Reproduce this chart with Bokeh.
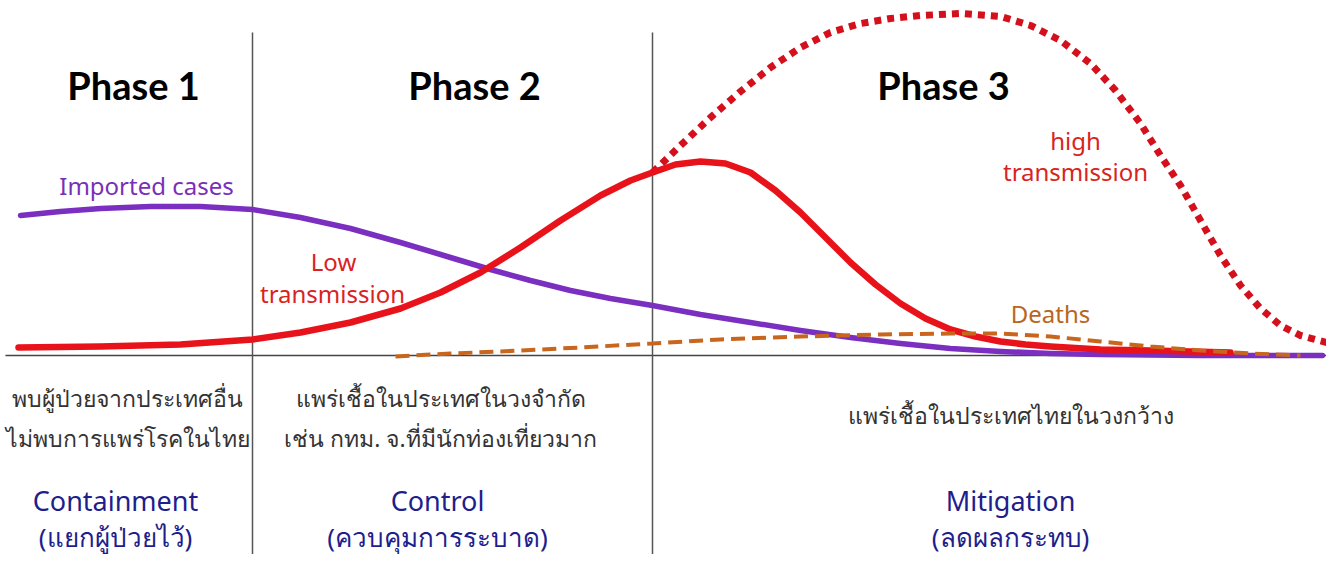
from bokeh.plotting import figure
from bokeh.models import Range1d
from bokeh.core.properties import value
from bokeh.embed import file_html
from bokeh.resources import INLINE

# ---- data (x = time position, y = level above baseline) ----
imported_x = [20, 60, 100, 150, 200, 252, 300, 350, 400, 450, 490, 530, 570, 610, 652, 700, 750, 800, 850, 900, 950, 1000, 1050, 1100, 1200, 1322]
imported_y = [140, 144, 147, 149, 149, 146, 138, 127, 113, 98, 86, 75, 65, 57, 50, 41, 33, 25, 18, 12, 7, 4, 2, 1, 0, 0]

low_x = [18, 100, 180, 252, 300, 350, 400, 440, 480, 520, 560, 600, 630, 652, 675, 700, 725, 750, 775, 800, 825, 850, 875, 900, 925, 950, 975, 1000, 1025, 1050, 1100, 1150, 1230]
low_y = [8, 9, 11, 16, 23, 33, 47, 63, 83, 108, 135, 160, 175, 183, 191, 194, 192, 183, 165, 143, 118, 93, 71, 52, 37, 26, 19, 14, 11, 9, 6, 5, 3]

high_x = [652, 680, 710, 740, 770, 800, 830, 860, 890, 920, 960, 1000, 1030, 1060, 1090, 1115, 1140, 1160, 1180, 1200, 1220, 1240, 1260, 1280, 1300, 1330]
high_y = [183, 210, 238, 264, 288, 308, 323, 332, 337, 340, 342, 339, 330, 315, 292, 265, 232, 200, 170, 135, 100, 70, 47, 30, 20, 12]

deaths_x = [395, 450, 500, 580, 652, 720, 800, 880, 950, 1000, 1050, 1100, 1150, 1200, 1250, 1300]
deaths_y = [-1, 2, 4, 8, 12, 16, 19, 21, 22, 22, 19, 14, 9, 5, 2, 0]

phase_dividers = [252, 652]

phase_titles = ["Phase 1", "Phase 2", "Phase 3"]
phase_title_x = [133, 474, 943]

series_labels = ["Imported cases", "Low", "transmission", "high", "transmission", "Deaths"]
series_label_x = [146, 333, 332, 1075, 1075, 1050]
series_label_y = [170, 94, 62, 215, 184, 42]
series_label_colors = ["#7A2FB8", "#D9231E", "#D9231E", "#D9231E", "#D9231E", "#B8661E"]

thai_desc = ["พบผู้ป่วยจากประเทศอื่น", "ไม่พบการแพร่โรคในไทย",
             "แพร่เชื้อในประเทศในวงจำกัด", "เช่น กทม. จ.ที่มีนักท่องเที่ยวมาก",
             "แพร่เชื้อในประเทศไทยในวงกว้าง"]
thai_desc_x = [127, 127, 440, 440, 1010]
thai_desc_y = [-42, -82, -42, -82, -59]

strategy = ["Containment", "Control", "Mitigation"]
strategy_thai = ["(แยกผู้ป่วยไว้)", "(ควบคุมการระบาด)", "(ลดผลกระทบ)"]
strategy_x = [115, 437, 1010]

# ---- figure ----
BASE = 355
p = figure(width=1326, height=554, output_backend="svg", toolbar_location=None,
           x_range=Range1d(0, 1326), y_range=Range1d(BASE - 554, BASE),
           min_border=0, outline_line_color=None)
p.axis.visible = False
p.grid.visible = False
p.background_fill_color = "white"

# baseline and dividers
p.segment(x0=[5], y0=[0], x1=[1330], y1=[0], line_color="#444444", line_width=1.5)
p.segment(x0=phase_dividers, y0=[BASE - 32] * 2, x1=phase_dividers, y1=[BASE - 570] * 2,
          line_color="#555555", line_width=1.5)

# curves
p.line(high_x, high_y, line_color="#D4101C", line_width=7, line_dash="7 6", line_cap="butt")
p.line(imported_x, imported_y, line_color="#7A2FC0", line_width=5.5, line_cap="round", line_join="round")
p.line(low_x, low_y, line_color="#E8131A", line_width=6.5, line_cap="round", line_join="round")
p.line(deaths_x, deaths_y, line_color="#C8661E", line_width=4, line_dash="14 7")

# texts
p.text(x=phase_title_x, y=[BASE - 84] * 3, text=phase_titles, text_align="center",
       text_baseline="middle", text_font=value("Lato"),
       text_font_style="bold", text_font_size="38px", text_color="black")

p.text(x=series_label_x, y=series_label_y, text=series_labels, text_align="center",
       text_baseline="middle", text_font=value("Noto Sans"), text_font_size="24px",
       text_color=series_label_colors)

p.text(x=thai_desc_x, y=thai_desc_y, text=thai_desc, text_align="center",
       text_baseline="middle", text_font=value("Noto Sans"), text_font_size="23px",
       text_color="#333333")

p.text(x=strategy_x, y=[BASE - 500] * 3, text=strategy, text_align="center",
       text_baseline="middle", text_font=value("Noto Sans"), text_font_size="27px",
       text_color="#1E1E8C")
p.text(x=strategy_x, y=[BASE - 536] * 3, text=strategy_thai, text_align="center",
       text_baseline="middle", text_font=value("Noto Sans"), text_font_size="26px",
       text_color="#1E1E8C")

open("out.html", "w").write(file_html(p, INLINE))
